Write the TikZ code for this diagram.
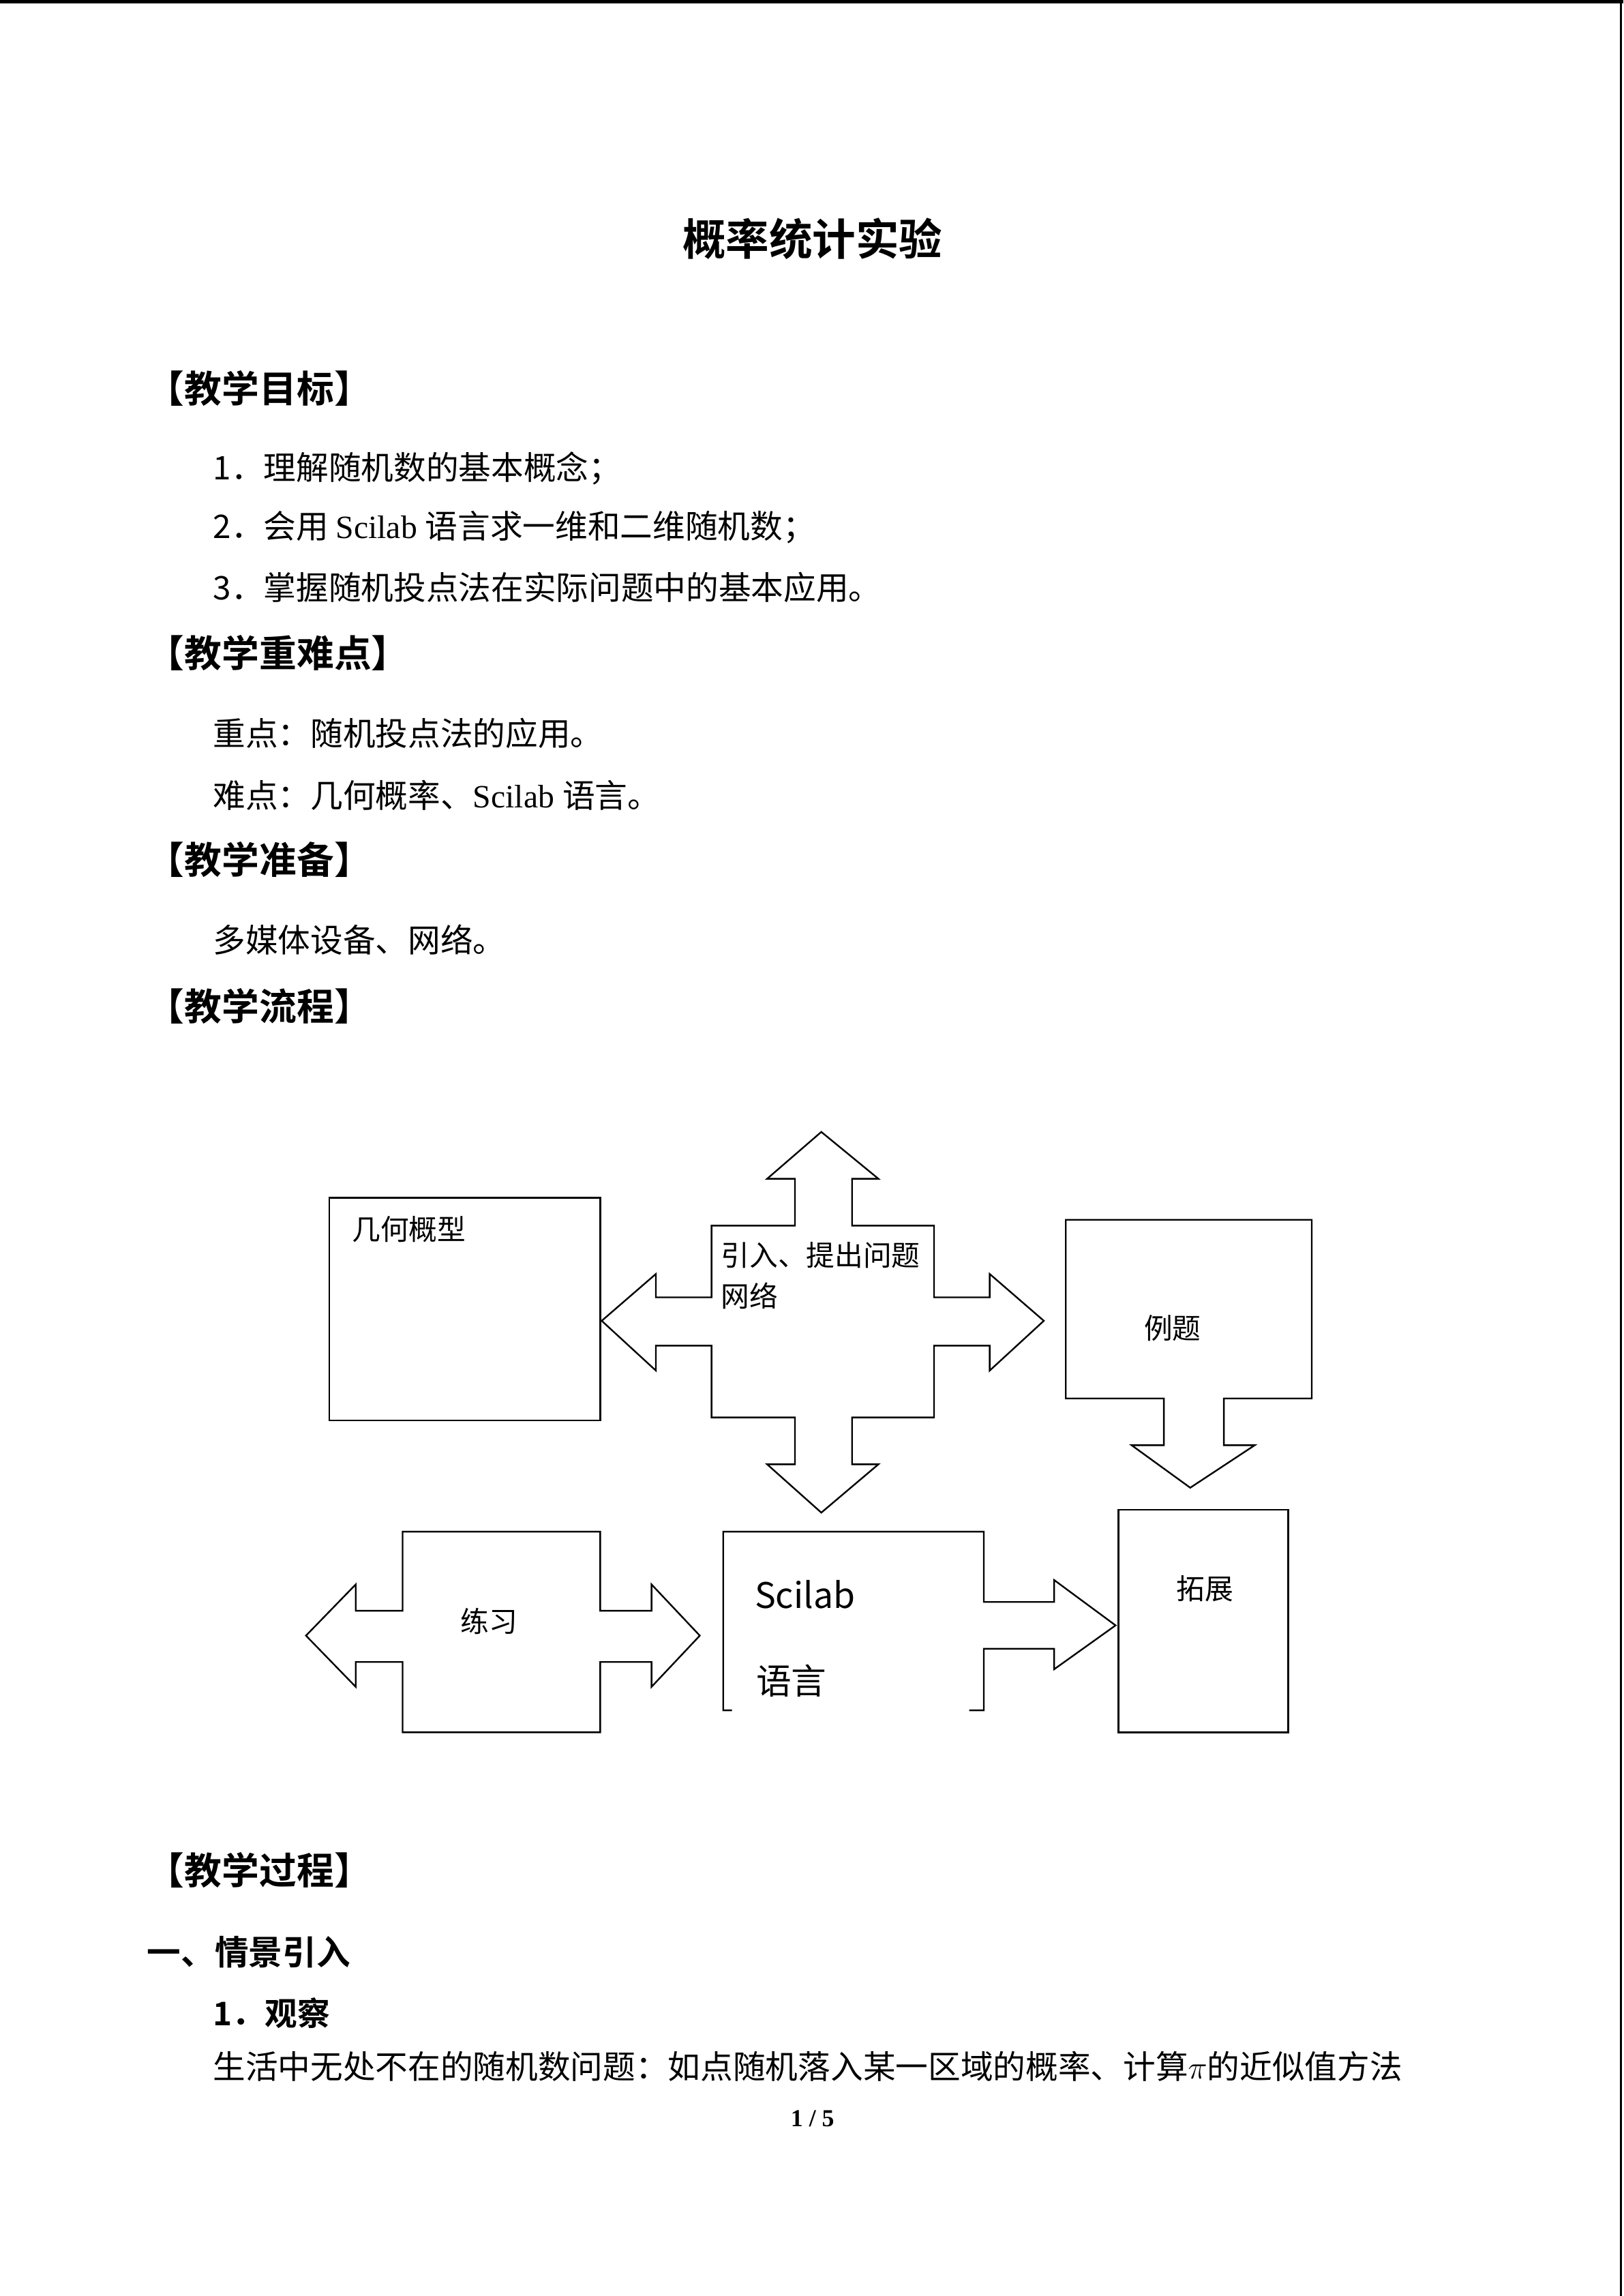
\documentclass[tikz,border=0pt]{standalone}
\usepackage{fontspec}
\setmainfont{Liberation Serif}
\newfontfamily\cjk{Noto Sans CJK SC}
\newfontfamily\cjkb{Noto Sans CJK SC Bold}
\usetikzlibrary{positioning}
\begin{document}
\begin{tikzpicture}[x=0.019cm, y=-0.019cm, line width=0.6pt]
			\tikzstyle{body}=[anchor=west, inner sep=0pt, font=\fontsize{12}{14}\selectfont]
			\tikzstyle{head}=[anchor=west, inner sep=0pt, font=\fontsize{13.8}{16}\cjkb]
			\tikzstyle{label}=[anchor=west, inner sep=0pt, font=\fontsize{10.5}{12}\cjk]
			\tikzstyle{box}=[draw=black, line join=miter]
			
			% page frame
			\useasboundingbox (0,0) rectangle (1109,1568);
			\fill[white] (0,0) rectangle (1109,1568);
			\draw[line width=1.5pt] (0,1) -- (1109,1);
			\draw[line width=0.8pt] (1107,0) -- (1107,1568);
			
			% title and sections
			\node[inner sep=0pt, font=\fontsize{16}{18}\cjkb] (title) at (555,163) {概率统计实验};
			\node[head] (goal) at (100,265) {【教学目标】};
			\node[body] (g1) at (145,320) {\cjk 1．理解随机数的基本概念；};
			\node[body] (g2) at (145,360) {{\cjk 2．会用 }Scilab {\cjk 语言求一维和二维随机数；}};
			\node[body] (g3) at (145,401) {\cjk 3．掌握随机投点法在实际问题中的基本应用。};
			\node[head] (key) at (100,446) {【教学重难点】};
			\node[body] (k1) at (145,501) {\cjk 重点：随机投点法的应用。};
			\node[body] (k2) at (145,543) {{\cjk 难点：几何概率、}Scilab {\cjk 语言。}};
			\node[head] (prep) at (100,587) {【教学准备】};
			\node[body] (p1) at (145,642) {\cjk 多媒体设备、网络。};
			\node[head] (flow) at (100,687) {【教学流程】};
			
			% left box
			\draw[box] (225,818) rectangle (410,970);
			\node[label, anchor=north west] (geo) at (240,830) {几何概型};
			
			% centre four-way arrow
			\draw[box] (486,837) -- (543,837) -- (543,805) -- (524,805) -- (561,773) -- (600,805) -- (582,805) -- (582,837)
				-- (638,837) -- (638,886) -- (676,886) -- (676,870) -- (713,902) -- (676,936) -- (676,919) -- (638,919)
				-- (638,968) -- (582,968) -- (582,1000) -- (600,1000) -- (561,1033) -- (524,1000) -- (543,1000) -- (543,968)
				-- (486,968) -- (486,919) -- (448,919) -- (448,936) -- (411,902) -- (448,870) -- (448,886) -- (486,886) -- cycle;
			\node[label] (intro) at (492,857) {引入、提出问题};
			\node[label] (net) at (492,885) {网络};
			
			% example box with down arrow
			\draw[box] (795,955) -- (728,955) -- (728,833) -- (896,833) -- (896,955) -- (836,955) -- (836,987) -- (857,987)
				-- (813,1016) -- (773,987) -- (795,987) -- cycle;
			\node[label] (ex) at (781,907) {例题};
			
			% extension box
			\draw[box] (764,1031) rectangle (880,1183);
			\node[label] (ext) at (803,1085) {拓展};
			
			% practice two-way arrow
			\draw[box] (275,1046) -- (410,1046) -- (410,1100) -- (445,1100) -- (445,1082) -- (478,1117) -- (445,1152)
				-- (445,1135) -- (410,1135) -- (410,1183) -- (275,1183) -- (275,1135) -- (243,1135) -- (243,1152) -- (209,1117)
				-- (243,1082) -- (243,1100) -- (275,1100) -- cycle;
			\node[label] (prac) at (314,1107) {练习};
			
			% Scilab open box with right arrow
			\draw[box] (500,1168) -- (494,1168) -- (494,1046) -- (672,1046) -- (672,1094) -- (720,1094) -- (720,1079)
				-- (762,1110) -- (720,1140) -- (720,1126) -- (672,1126) -- (672,1168) -- (662,1168);
			\node[anchor=west, inner sep=0pt, font=\fontsize{13}{15}\cjk] (sci) at (515,1089) {Scilab};
			\node[anchor=west, inner sep=0pt, font=\fontsize{13}{15}\cjk] (lang) at (516,1148) {语言};
			
			% process section
			\node[head] (proc) at (100,1277) {【教学过程】};
			\node[anchor=west, inner sep=0pt, font=\fontsize{12.5}{14}\cjkb] (s1) at (100,1333) {一、情景引入};
			\node[anchor=west, inner sep=0pt, font=\fontsize{12}{14}\cjkb] (s11) at (145,1375) {1．观察};
			\node[body] (txt) at (145,1411) {{\cjk 生活中无处不在的随机数问题：如点随机落入某一区域的概率、计算}$\pi${\cjk 的近似值方法}};
			\node[inner sep=0pt, font=\fontsize{9}{10}\bfseries] (page) at (555,1447) {1 / 5};
\end{tikzpicture}
\end{document}
